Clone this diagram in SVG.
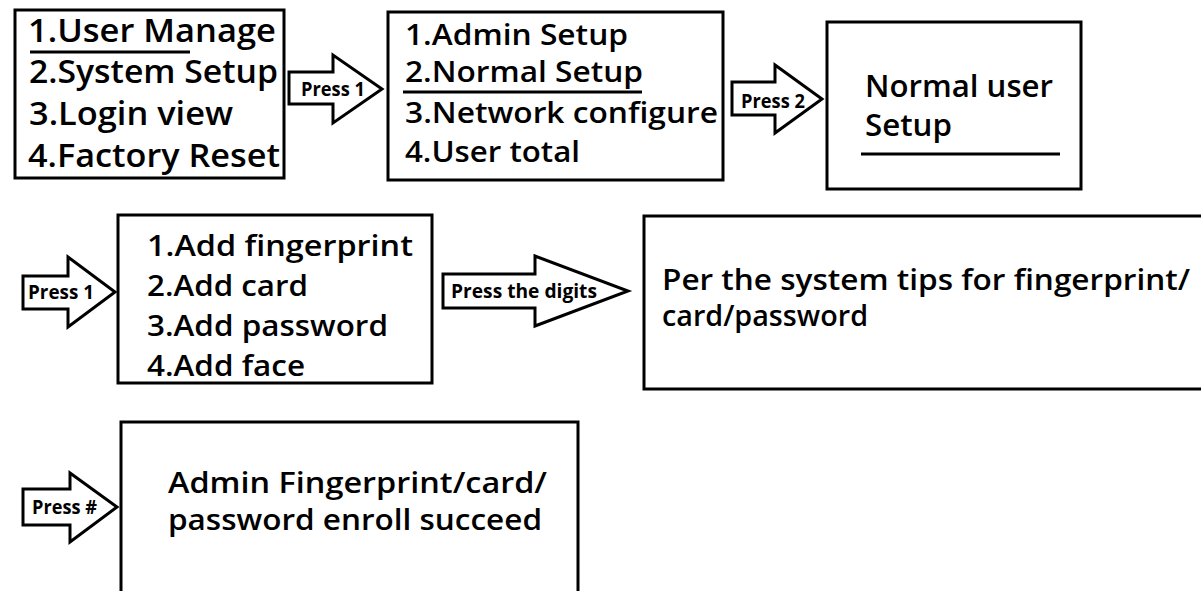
<svg xmlns="http://www.w3.org/2000/svg" width="1201" height="591" viewBox="0 0 1201 591">
<style>
.box{fill:#fff;stroke:#000;stroke-width:3}
.arr{fill:#fff;stroke:#000;stroke-width:3;stroke-linejoin:miter}
.ul{stroke:#000;stroke-width:3}
text{font-family:"Open Sans","Liberation Sans",sans-serif;fill:#000}
.t{font-weight:600}
.lab{font-weight:700;font-size:20px}
</style>
<rect width="1201" height="591" fill="#fff"/>
<g id="connectors">
<polygon class="arr" points="289,72 333,72 333,55 382,89 333,123 333,104 289,104"/>
<text class="lab" x="301" y="96" textLength="64" lengthAdjust="spacingAndGlyphs">Press 1</text>
<polygon class="arr" points="732,82 775,82 775,65 822,99 775,133 775,115 732,115"/>
<text class="lab" x="741" y="108" textLength="64" lengthAdjust="spacingAndGlyphs">Press 2</text>
<polygon class="arr" points="23,276 68,276 68,257 115,292 68,327 68,309 23,309"/>
<text class="lab" x="28" y="299" textLength="66" lengthAdjust="spacingAndGlyphs">Press 1</text>
<polygon class="arr" points="443,274 535,274 535,256 628,291 535,326 535,308 443,308"/>
<text class="lab" x="451" y="298" textLength="146" lengthAdjust="spacingAndGlyphs">Press the digits</text>
<polygon class="arr" points="23,489 70,489 70,473 117,507 70,542 70,525 23,525"/>
<text class="lab" x="32" y="514" textLength="65" lengthAdjust="spacingAndGlyphs">Press #</text>
</g>
<g id="node-main-menu">
<rect class="box" x="15" y="10" width="269" height="168"/>
<g class="t" font-size="33">
<text x="28" y="42" textLength="248" lengthAdjust="spacingAndGlyphs">1.User Manage</text>
<text x="29" y="83" textLength="249" lengthAdjust="spacingAndGlyphs">2.System Setup</text>
<text x="29" y="125" textLength="204" lengthAdjust="spacingAndGlyphs">3.Login view</text>
<text x="28" y="167" textLength="252" lengthAdjust="spacingAndGlyphs">4.Factory Reset</text>
</g>
<line class="ul" x1="30" y1="52" x2="190" y2="52"/>
</g>
<g id="node-user-manage">
<rect class="box" x="388" y="12" width="335" height="168"/>
<g class="t" font-size="29">
<text x="405" y="45" textLength="223" lengthAdjust="spacingAndGlyphs">1.Admin Setup</text>
<text x="405" y="82" textLength="238" lengthAdjust="spacingAndGlyphs">2.Normal Setup</text>
<text x="405" y="123" textLength="313" lengthAdjust="spacingAndGlyphs">3.Network configure</text>
<text x="405" y="162" textLength="175" lengthAdjust="spacingAndGlyphs">4.User total</text>
</g>
<line class="ul" x1="403" y1="92" x2="642" y2="92"/>
</g>
<g id="node-normal-user-setup">
<rect class="box" x="827" y="22" width="254" height="167"/>
<g class="t" font-size="30">
<text x="865" y="97" textLength="188" lengthAdjust="spacingAndGlyphs">Normal user</text>
<text x="865" y="136" textLength="87" lengthAdjust="spacingAndGlyphs">Setup</text>
</g>
<line class="ul" x1="861" y1="154" x2="1060" y2="154"/>
</g>
<g id="node-add-menu">
<rect class="box" x="118" y="215" width="314" height="168"/>
<g class="t" font-size="28">
<text x="147" y="256" textLength="266" lengthAdjust="spacingAndGlyphs">1.Add fingerprint</text>
<text x="147" y="296" textLength="161" lengthAdjust="spacingAndGlyphs">2.Add card</text>
<text x="147" y="336" textLength="241" lengthAdjust="spacingAndGlyphs">3.Add password</text>
<text x="147" y="376" textLength="158" lengthAdjust="spacingAndGlyphs">4.Add face</text>
</g>
</g>
<g id="node-system-tips">
<rect class="box" x="644" y="216" width="580" height="173"/>
<g class="t" font-size="28">
<text x="662" y="290" textLength="528" lengthAdjust="spacingAndGlyphs">Per the system tips for fingerprint/</text>
<text x="662" y="326" textLength="206" lengthAdjust="spacingAndGlyphs">card/password</text>
</g>
</g>
<g id="node-enroll-succeed">
<rect class="box" x="121" y="422" width="457" height="200"/>
<g class="t" font-size="28">
<text x="168" y="493" textLength="379" lengthAdjust="spacingAndGlyphs">Admin Fingerprint/card/</text>
<text x="168" y="530" textLength="374" lengthAdjust="spacingAndGlyphs">password enroll succeed</text>
</g>
</g>
</svg>
